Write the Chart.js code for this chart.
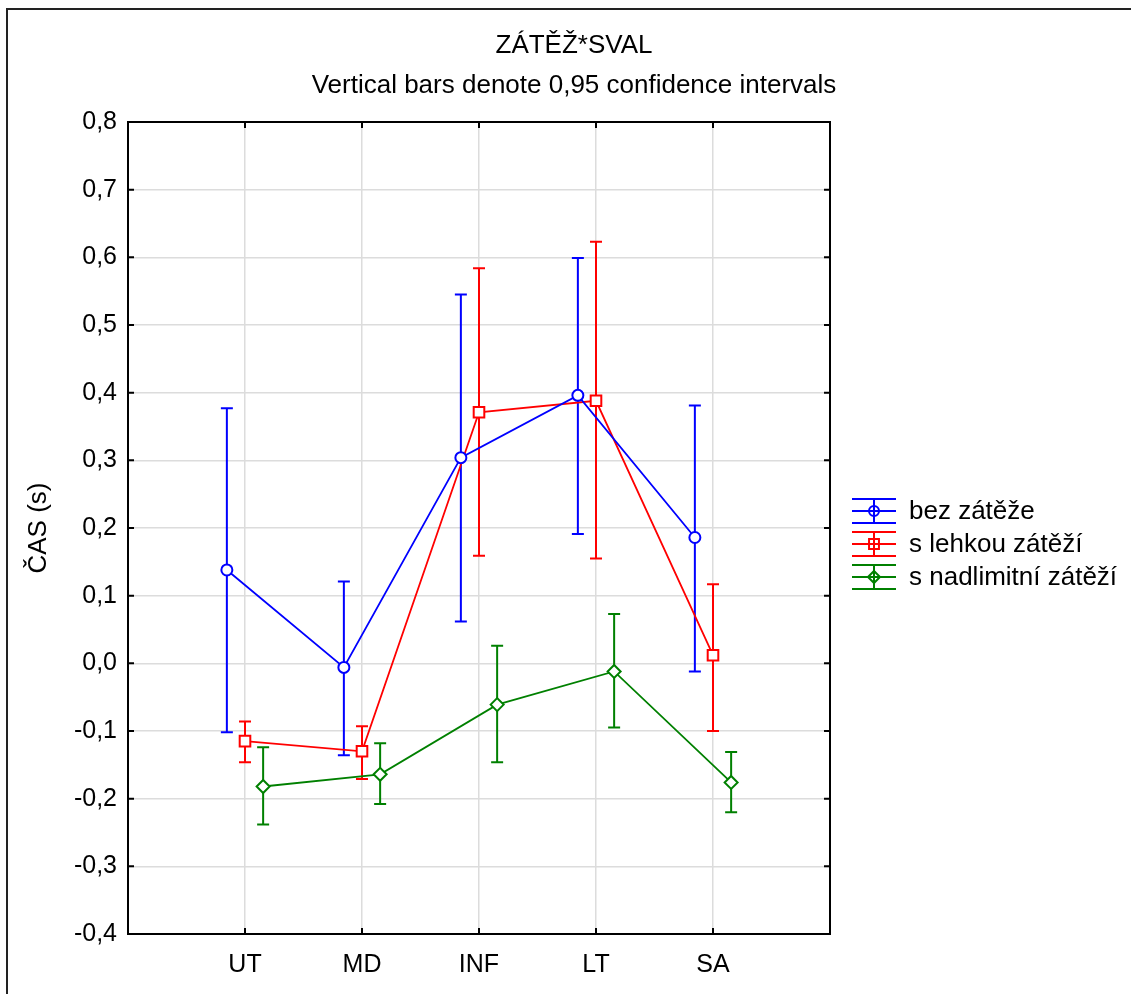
<!DOCTYPE html>
<html>
<head>
<meta charset="utf-8">
<script src="https://cdn.jsdelivr.net/npm/chart.js@4"></script>
<style>
  html, body { margin: 0; padding: 0; background: #fff; }
  canvas { display: block; }
</style>
</head>
<body>
<canvas id="chart" width="1131" height="994"></canvas>
<script>
// kategorie (svaly)
const categories = ['UT', 'MD', 'INF', 'LT', 'SA'];

// průměry a 0,95 intervaly spolehlivosti
const bezMean  = [0.138, -0.006, 0.304, 0.396, 0.186];
const bezLow   = [-0.102, -0.136, 0.062, 0.191, -0.012];
const bezHigh  = [0.377, 0.121, 0.545, 0.599, 0.381];

const lehMean  = [-0.115, -0.130, 0.371, 0.388, 0.012];
const lehLow   = [-0.146, -0.171, 0.159, 0.155, -0.100];
const lehHigh  = [-0.086, -0.093, 0.584, 0.623, 0.117];

const nadMean  = [-0.182, -0.164, -0.061, -0.012, -0.176];
const nadLow   = [-0.238, -0.208, -0.146, -0.095, -0.220];
const nadHigh  = [-0.124, -0.118, 0.026, 0.073, -0.131];

const seriesNames = ['bez zátěže', 's lehkou zátěží', 's nadlimitní zátěží'];

const FONT = '"Liberation Sans", Arial, sans-serif';
const SHIFT = 0.155; // posun skupin vedle sebe

const toPoints = (mean, low, high, off) =>
  mean.map((v, i) => ({ x: i + 1 + off, y: v, low: low[i], high: high[i] }));

const fmt = (v) => (Math.round(v * 10) / 10 + 0).toFixed(1).replace('.', ',');

// chybové úsečky
const errorBars = {
  id: 'errorBars',
  beforeDatasetsDraw(chart) {
    const { ctx, scales: { x, y } } = chart;
    chart.data.datasets.forEach((ds) => {
      ctx.save();
      ctx.strokeStyle = ds.borderColor;
      ctx.lineWidth = 2;
      ds.data.forEach((p) => {
        const px = x.getPixelForValue(p.x);
        const yl = y.getPixelForValue(p.low);
        const yh = y.getPixelForValue(p.high);
        ctx.beginPath();
        ctx.moveTo(px, yl); ctx.lineTo(px, yh);
        ctx.moveTo(px - 6, yl); ctx.lineTo(px + 6, yl);
        ctx.moveTo(px - 6, yh); ctx.lineTo(px + 6, yh);
        ctx.stroke();
      });
      ctx.restore();
    });
  }
};

// rámeček grafu, vnitřní značky os, titulky a legenda
const decor = {
  id: 'decor',
  beforeDraw(chart) {
    const ctx = chart.ctx;
    ctx.save();
    ctx.fillStyle = '#fff';
    ctx.fillRect(0, 0, chart.width, chart.height);
    ctx.strokeStyle = '#222';
    ctx.lineWidth = 2;
    ctx.beginPath();
    ctx.moveTo(7, chart.height); ctx.lineTo(7, 9); ctx.lineTo(chart.width, 9);
    ctx.stroke();
    ctx.restore();
  },
  afterDraw(chart) {
    const { ctx, chartArea: a, scales: { x, y } } = chart;
    ctx.save();
    ctx.strokeStyle = '#000';
    ctx.lineWidth = 2;
    ctx.strokeRect(a.left, a.top, a.right - a.left, a.bottom - a.top);
    ctx.beginPath();
    y.ticks.forEach((t) => {
      const py = y.getPixelForValue(t.value);
      ctx.moveTo(a.left, py); ctx.lineTo(a.left + 6, py);
      ctx.moveTo(a.right, py); ctx.lineTo(a.right - 6, py);
    });
    categories.forEach((c, i) => {
      const px = x.getPixelForValue(i + 1);
      ctx.moveTo(px, a.top); ctx.lineTo(px, a.top + 6);
      ctx.moveTo(px, a.bottom); ctx.lineTo(px, a.bottom - 6);
    });
    ctx.stroke();

    // titulky
    ctx.fillStyle = '#000';
    ctx.textAlign = 'center';
    ctx.textBaseline = 'middle';
    ctx.font = '26px ' + FONT;
    ctx.fillText('ZÁTĚŽ*SVAL', 574, 46);
    ctx.fillText('Vertical bars denote 0,95 confidence intervals', 574, 86);

    // popis osy Y
    ctx.save();
    ctx.translate(39, (a.top + a.bottom) / 2);
    ctx.rotate(-Math.PI / 2);
    ctx.fillText('ČAS (s)', 0, 0);
    ctx.restore();

    // legenda
    const rows = [511, 544, 577];
    chart.data.datasets.forEach((ds, i) => {
      const cy = rows[i];
      ctx.strokeStyle = ds.borderColor;
      ctx.lineWidth = 2;
      ctx.beginPath();
      [-12, 0, 12].forEach((d) => { ctx.moveTo(852, cy + d); ctx.lineTo(896, cy + d); });
      ctx.moveTo(874, cy - 12); ctx.lineTo(874, cy + 12);
      ctx.stroke();
      ctx.fillStyle = 'rgba(0,0,0,0)';
      Chart.helpers.drawPoint(ctx, {
        pointStyle: ds.pointStyle, radius: ds.pointRadius - 0.5, borderWidth: 2
      }, 874, cy);
      ctx.fillStyle = '#000';
      ctx.textAlign = 'left';
      ctx.fillText(seriesNames[i], 909, cy + 1);
    });
    ctx.restore();
  }
};

const lineDs = (label, data, color, style, radius) => ({
  label, data,
  borderColor: color,
  backgroundColor: '#fff',
  borderWidth: 1.8,
  pointStyle: style,
  pointRadius: radius,
  pointBorderWidth: 2,
  pointBackgroundColor: '#fff',
  pointBorderColor: color,
  tension: 0,
  clip: false
});

new Chart(document.getElementById('chart'), {
  type: 'line',
  data: {
    datasets: [
      lineDs(seriesNames[0], toPoints(bezMean, bezLow, bezHigh, -SHIFT), '#0000ff', 'circle', 5.5),
      lineDs(seriesNames[1], toPoints(lehMean, lehLow, lehHigh, 0), '#ff0000', 'rect', 7.5),
      lineDs(seriesNames[2], toPoints(nadMean, nadLow, nadHigh, SHIFT), '#008000', 'rectRot', 6.5)
    ]
  },
  options: {
    responsive: false,
    animation: false,
    devicePixelRatio: 1,
    layout: { padding: { top: 122, right: 301, bottom: 0, left: 0 } },
    plugins: { legend: { display: false }, tooltip: { enabled: false }, title: { display: false } },
    scales: {
      x: {
        type: 'linear', min: 0, max: 6,
        afterFit: (s) => { s.height = 60; },
        border: { display: false },
        grid: {
          drawTicks: false,
          color: (c) => (c.tick.value > 0 && c.tick.value < 6 ? '#dcdcdc' : 'rgba(0,0,0,0)'),
          lineWidth: 1.5
        },
        ticks: {
          stepSize: 1, padding: 16, color: '#000',
          font: { family: FONT, size: 25 },
          maxRotation: 0, autoSkip: false,
          callback: (v) => categories[v - 1] || ''
        }
      },
      y: {
        min: -0.4, max: 0.8,
        afterFit: (s) => { s.width = 128; },
        border: { display: false },
        grid: { drawTicks: false, color: '#dcdcdc', lineWidth: 1.5 },
        ticks: {
          stepSize: 0.1, padding: 11, color: '#000',
          font: { family: FONT, size: 25 },
          callback: (v) => fmt(v)
        }
      }
    }
  },
  plugins: [errorBars, decor]
});
</script>
</body>
</html>
